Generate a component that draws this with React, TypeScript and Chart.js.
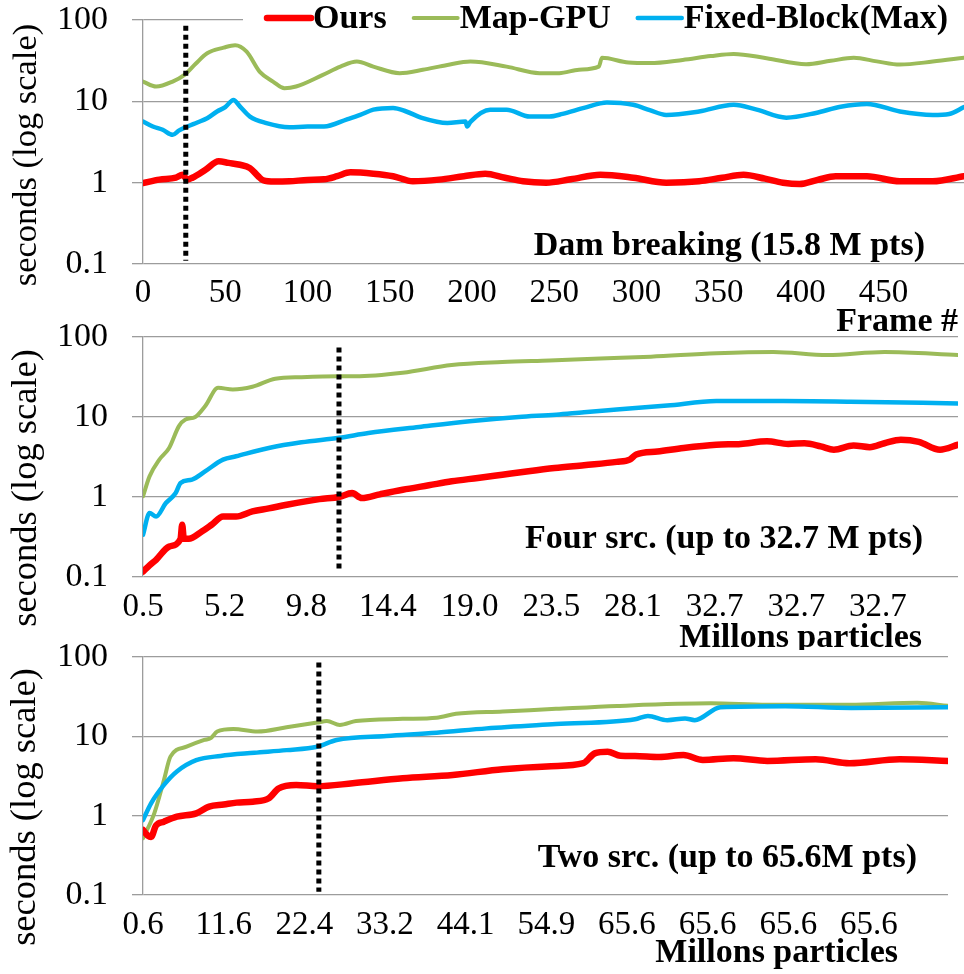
import React, { useEffect, useRef } from "react";
import { Chart, registerables } from "chart.js";

Chart.register(...registerables);

const FONT = '"Liberation Serif", "Times New Roman", Times, serif';

// ---- shared ----
const seriesNames = ["Ours", "Map-GPU", "Fixed-Block(Max)"];
const seriesColors = ["#FF0000", "#9BBB59", "#00B0F0"];
const seriesWidths = [6.5, 4, 4.5];
const yTickValues = [0.1, 1, 10, 100];
const xTickStep = 50;

// ---- panel 1: Dam breaking, x = frame # ----
const damTickLabels = ["0", "50", "100", "150", "200", "250", "300", "350", "400", "450"];
const damOurs = [
  [0, 0.99], [10, 1.09], [20, 1.15], [24, 1.25], [27, 1.09], [30, 1.15], [38, 1.44], [46, 1.83],
  [52, 1.75], [59, 1.66], [65, 1.51], [70, 1.2], [73, 1.07], [80, 1.03], [89, 1.04], [100, 1.08],
  [110, 1.1], [118, 1.2], [126, 1.34], [140, 1.29], [152, 1.2], [164, 1.04], [180, 1.09], [195, 1.2],
  [208, 1.29], [220, 1.15], [231, 1.04], [245, 1.0], [260, 1.1], [278, 1.25], [298, 1.15], [318, 1.0],
  [338, 1.04], [352, 1.15], [365, 1.25], [378, 1.12], [389, 1.0], [399, 0.96], [410, 1.08], [421, 1.2],
  [440, 1.2], [460, 1.04], [480, 1.04], [499, 1.2],
];
const damMapGpu = [
  [0, 17.5], [8, 15.2], [18, 17.5], [25, 21], [32, 29], [39, 39], [49, 45.7], [56, 49], [63, 40.8],
  [71, 23], [79, 17.5], [86, 14.5], [93, 15.2], [109, 21], [120, 26.7], [130, 30.8], [140, 26.7],
  [156, 22.2], [170, 24.4], [185, 28], [199, 30.8], [221, 26.7], [241, 22.2], [253, 22.2], [265, 24.5],
  [277, 26.7], [279, 34.3], [295, 30], [308, 29.5], [328, 32.3], [345, 36], [359, 38.3], [379, 33.9],
  [403, 28.6], [418, 31.5], [432, 34.3], [446, 31], [460, 28.3], [480, 30.8], [499, 34.3],
];
const damFixed = [
  [0, 5.65], [6, 4.9], [12, 4.47], [18, 3.88], [22, 4.4], [27, 4.9], [33, 5.5], [39, 6.2], [45, 7.5],
  [50, 8.5], [55, 10.4], [59, 8.6], [65, 6.5], [75, 5.4], [89, 4.8], [100, 4.9], [110, 4.9], [124, 6.0],
  [132, 6.8], [140, 7.9], [152, 8.3], [160, 7.5], [170, 6.2], [185, 5.4], [196, 5.65], [197, 4.9],
  [199, 5.6], [211, 7.9], [221, 7.9], [235, 6.5], [247, 6.5], [255, 7.0], [268, 8.3], [282, 9.7],
  [298, 9.06], [308, 7.8], [318, 6.8], [338, 7.5], [359, 9.06], [373, 7.9], [391, 6.3], [409, 7.2],
  [424, 8.6], [440, 9.3], [460, 7.5], [480, 6.8], [490, 7.0], [499, 8.5],
];
const damMarker = [[26, 85], [26, 0.11]];

// ---- panel 2: Four src. ----
const fourTickLabels = ["0.5", "5.2", "9.8", "14.4", "19.0", "23.5", "28.1", "32.7", "32.7", "32.7"];
const fourOurs = [
  [0, 0.117], [4, 0.14], [8, 0.164], [16, 0.24], [23, 0.3], [24, 0.45], [25, 0.3], [28, 0.3], [36, 0.37],
  [42, 0.45], [49, 0.57], [57, 0.57], [67, 0.66], [77, 0.72], [88, 0.8], [108, 0.94], [120, 1.0],
  [128, 1.12], [134, 0.97], [145, 1.08], [159, 1.23], [175, 1.4], [189, 1.57], [205, 1.73], [220, 1.9],
  [236, 2.1], [252, 2.3], [270, 2.5], [290, 2.75], [298, 2.93], [302, 3.4], [315, 3.7], [331, 4.1],
  [351, 4.5], [366, 4.6], [382, 4.97], [395, 4.6], [405, 4.7], [415, 4.3], [423, 3.9], [435, 4.4],
  [445, 4.2], [454, 4.7], [464, 5.2], [475, 4.9], [488, 3.9], [499, 4.5],
];
const fourMapGpu = [
  [0, 1.02], [4, 1.81], [10, 2.93], [16, 4.1], [22, 7.7], [26, 9.3], [32, 10.0], [38, 13.6], [46, 23.2],
  [55, 22.1], [67, 23.9], [81, 30.1], [97, 31.5], [120, 32.3], [130, 32.3], [159, 35.8], [189, 44.6],
  [220, 48.6], [249, 51], [280, 54], [311, 56.8], [351, 62.5], [386, 64.9], [419, 59.5], [454, 64.9],
  [499, 59.7],
];
const fourFixed = [
  [0, 0.337], [4, 0.63], [8, 0.57], [14, 0.84], [20, 1.12], [23, 1.5], [30, 1.65], [38, 2.09], [49, 2.93],
  [57, 3.23], [77, 4.1], [97, 4.83], [120, 5.5], [138, 6.3], [169, 7.5], [200, 8.85], [230, 10.0],
  [253, 10.7], [270, 11.5], [290, 12.4], [321, 13.9], [351, 15.8], [392, 15.8], [433, 15.5], [499, 14.8],
];
const fourMarker = [[120, 74], [120, 0.12]];

// ---- panel 3: Two src. ----
const twoTickLabels = ["0.6", "11.6", "22.4", "33.2", "44.1", "54.9", "65.6", "65.6", "65.6", "65.6"];
const twoOurs = [
  [0, 0.66], [3, 0.56], [5, 0.54], [8, 0.75], [13, 0.84], [21, 0.97], [33, 1.07], [41, 1.3], [50, 1.38],
  [58, 1.46], [68, 1.5], [78, 1.66], [84, 2.2], [95, 2.44], [108, 2.35], [130, 2.56], [161, 2.96],
  [192, 3.26], [223, 3.85], [253, 4.2], [273, 4.58], [280, 6.1], [288, 6.4], [296, 5.7], [305, 5.66],
  [320, 5.5], [335, 5.8], [347, 5.04], [366, 5.3], [387, 4.9], [417, 5.15], [438, 4.58], [469, 5.15],
  [499, 4.9],
];
const twoMapGpu = [
  [0, 0.52], [7, 1.07], [13, 2.82], [17, 5.55], [27, 7.4], [38, 9.0], [42, 9.5], [46, 11.5], [56, 12.4],
  [71, 11.5], [89, 13], [108, 14.9], [114, 15.6], [122, 13.9], [132, 15.6], [161, 16.6], [182, 17.2],
  [194, 19.2], [223, 20.5], [256, 22.2], [294, 24.2], [352, 26.1], [387, 25], [438, 25], [480, 26.5],
  [499, 24.2],
];
const twoFixed = [
  [0, 0.88], [5, 1.43], [13, 2.44], [21, 3.6], [33, 5.0], [48, 5.66], [69, 6.2], [89, 6.7], [108, 7.4],
  [120, 9.0], [151, 10.1], [182, 11.1], [213, 12.6], [256, 14.3], [305, 16.4], [313, 18.1], [325, 16],
  [336, 16.8], [342, 16], [358, 23.3], [398, 24], [439, 22.8], [499, 23.3],
];
const twoMarker = [[109, 85], [109, 0.11]];

const GRID = "#9c9c9c";

const panelTextPlugin = {
  id: "panelText",
  afterDraw(chart: any, _args: any, o: any) {
    const ctx = chart.ctx;
    ctx.save();
    ctx.fillStyle = "#000";
    ctx.textBaseline = "middle";
    ctx.font = `bold ${o.titleSize}px ${FONT}`;
    ctx.textAlign = "right";
    ctx.fillText(o.title, o.titleRight, o.titleY);
    ctx.fillText(o.xTitle, o.xTitleRight, o.xTitleY);
    ctx.font = `${o.yTitleSize}px ${FONT}`;
    ctx.textAlign = "center";
    ctx.translate(o.yTitleX, o.yTitleY);
    ctx.rotate(-Math.PI / 2);
    ctx.fillText(o.yTitle, 0, 0);
    ctx.restore();
  },
};

const legendPlugin = {
  id: "topLegend",
  afterDraw(chart: any, _args: any, o: any) {
    if (!o || !o.show) return;
    const ctx = chart.ctx;
    ctx.save();
    ctx.fillStyle = "#fff";
    ctx.fillRect(o.boxLeft, 0, chart.width - o.boxLeft, o.boxHeight);
    ctx.font = `bold ${o.size}px ${FONT}`;
    ctx.textBaseline = "middle";
    ctx.textAlign = "left";
    let x = o.startX;
    chart.data.datasets.forEach((ds: any) => {
      if (!ds.inLegend) return;
      ctx.strokeStyle = ds.borderColor;
      ctx.lineWidth = ds.borderWidth;
      ctx.lineCap = "round";
      ctx.beginPath();
      ctx.moveTo(x, o.y);
      ctx.lineTo(x + o.sample, o.y);
      ctx.stroke();
      x += o.sample + o.textGap;
      ctx.fillStyle = "#000";
      ctx.fillText(ds.label, x, o.y + 1);
      x += ctx.measureText(ds.label).width + o.itemGap;
    });
    ctx.restore();
  },
};

type PanelCfg = {
  top: number;
  height: number;
  padTop: number;
  padRight: number;
  xAxisH: number;
  xTickPad: number;
  tickLabels: string[];
  series: number[][][];
  marker: number[][];
  text: any;
  legend: any;
};

function Panel({ cfg }: { cfg: PanelCfg }) {
  const ref = useRef<HTMLCanvasElement | null>(null);
  useEffect(() => {
    const order = [1, 3, 2];
    const datasets: any[] = cfg.series.map((s, i) => ({
      label: seriesNames[i],
      inLegend: true,
      data: s.map(([x, y]) => ({ x, y })),
      borderColor: seriesColors[i],
      backgroundColor: seriesColors[i],
      borderWidth: seriesWidths[i],
      pointRadius: 0,
      tension: 0.35,
      cubicInterpolationMode: "monotone",
      borderJoinStyle: "round",
      borderCapStyle: "round",
      fill: false,
      order: order[i],
    }));
    datasets.push({
      label: "marker",
      inLegend: false,
      data: cfg.marker.map(([x, y]) => ({ x, y })),
      borderColor: "#000",
      borderWidth: 5,
      borderDash: [5, 4],
      borderCapStyle: "butt",
      pointRadius: 0,
      tension: 0,
      fill: false,
      order: 0,
    });
    const labels = cfg.tickLabels;
    const chart = new Chart(ref.current as HTMLCanvasElement, {
      type: "line",
      data: { datasets },
      options: {
        responsive: false,
        animation: false,
        devicePixelRatio: 1,
        layout: { padding: { top: cfg.padTop, right: cfg.padRight, left: 0, bottom: 0 } },
        plugins: {
          legend: { display: false },
          tooltip: { enabled: false },
          panelText: cfg.text,
          topLegend: cfg.legend,
        } as any,
        scales: {
          x: {
            type: "linear",
            min: 0,
            max: 499,
            grid: { display: false, drawTicks: false },
            border: { display: false },
            ticks: {
              autoSkip: false,
              maxRotation: 0,
              minRotation: 0,
              padding: cfg.xTickPad,
              color: "#000",
              font: { family: FONT, size: 33 },
              callback: (v: any) => {
                const k = Math.round(Number(v) / xTickStep);
                return labels[k] !== undefined ? labels[k] : "";
              },
            },
            afterBuildTicks: (s: any) => {
              s.ticks = labels.map((_, i) => ({ value: i * xTickStep }));
            },
            afterFit: (s: any) => {
              s.height = cfg.xAxisH;
              s.paddingLeft = 0;
              s.paddingRight = 0;
            },
          },
          y: {
            type: "logarithmic",
            min: 0.1,
            max: 100,
            grid: { color: GRID, lineWidth: 1.3, tickLength: 11, drawTicks: true },
            border: { display: true, color: GRID, width: 1.3 },
            ticks: {
              padding: 24,
              color: "#000",
              font: { family: FONT, size: 34 },
              callback: (v: any) => String(v),
            },
            afterBuildTicks: (s: any) => {
              s.ticks = yTickValues.map((v) => ({ value: v }));
            },
            afterFit: (s: any) => {
              s.width = 143;
              s.paddingTop = 0;
              s.paddingBottom = 0;
            },
          },
        } as any,
      },
      plugins: [panelTextPlugin, legendPlugin],
    } as any);
    return () => chart.destroy();
  }, []);
  return (
    <div style={{ position: "absolute", left: 0, top: cfg.top, width: 964, height: cfg.height }}>
      <canvas ref={ref} width={964} height={cfg.height} style={{ width: 964, height: cfg.height, display: "block" }} />
    </div>
  );
}

const panels: PanelCfg[] = [
  {
    top: 0,
    height: 340,
    padTop: 20,
    padRight: 0,
    xAxisH: 76,
    xTickPad: 10,
    tickLabels: damTickLabels,
    series: [damOurs, damMapGpu, damFixed],
    marker: damMarker,
    text: {
      title: "Dam breaking (15.8 M pts)",
      titleSize: 34,
      titleRight: 925,
      titleY: 246,
      xTitle: "Frame #",
      xTitleRight: 958,
      xTitleY: 322,
      yTitle: "seconds (log scale)",
      yTitleSize: 34.5,
      yTitleX: 27,
      yTitleY: 155,
    },
    legend: { show: true, boxLeft: 243, boxHeight: 40, size: 34, startX: 267, y: 18, sample: 44, textGap: 2, itemGap: 27 },
  },
  {
    top: 320,
    height: 330,
    padTop: 17,
    padRight: 6,
    xAxisH: 73,
    xTickPad: 11,
    tickLabels: fourTickLabels,
    series: [fourOurs, fourMapGpu, fourFixed],
    marker: fourMarker,
    text: {
      title: "Four src. (up to 32.7 M pts)",
      titleSize: 34,
      titleRight: 923,
      titleY: 219,
      xTitle: "Millons particles",
      xTitleRight: 922,
      xTitleY: 318,
      yTitle: "seconds (log scale)",
      yTitleSize: 36.5,
      yTitleX: 26,
      yTitleY: 168,
    },
    legend: { show: false },
  },
  {
    top: 640,
    height: 334,
    padTop: 17,
    padRight: 16,
    xAxisH: 79,
    xTickPad: 11,
    tickLabels: twoTickLabels,
    series: [twoOurs, twoMapGpu, twoFixed],
    marker: twoMarker,
    text: {
      title: "Two src. (up to 65.6M pts)",
      titleSize: 34,
      titleRight: 917,
      titleY: 218,
      xTitle: "Millons particles",
      xTitleRight: 898,
      xTitleY: 313,
      yTitle: "seconds (log scale)",
      yTitleSize: 36.5,
      yTitleX: 25,
      yTitleY: 167,
    },
    legend: { show: false },
  },
];

export default function App() {
  return (
    <div style={{ position: "absolute", left: 0, top: 0, width: 964, height: 974, background: "#fff" }}>
      {panels.map((p, i) => (
        <Panel key={i} cfg={p} />
      ))}
    </div>
  );
}
